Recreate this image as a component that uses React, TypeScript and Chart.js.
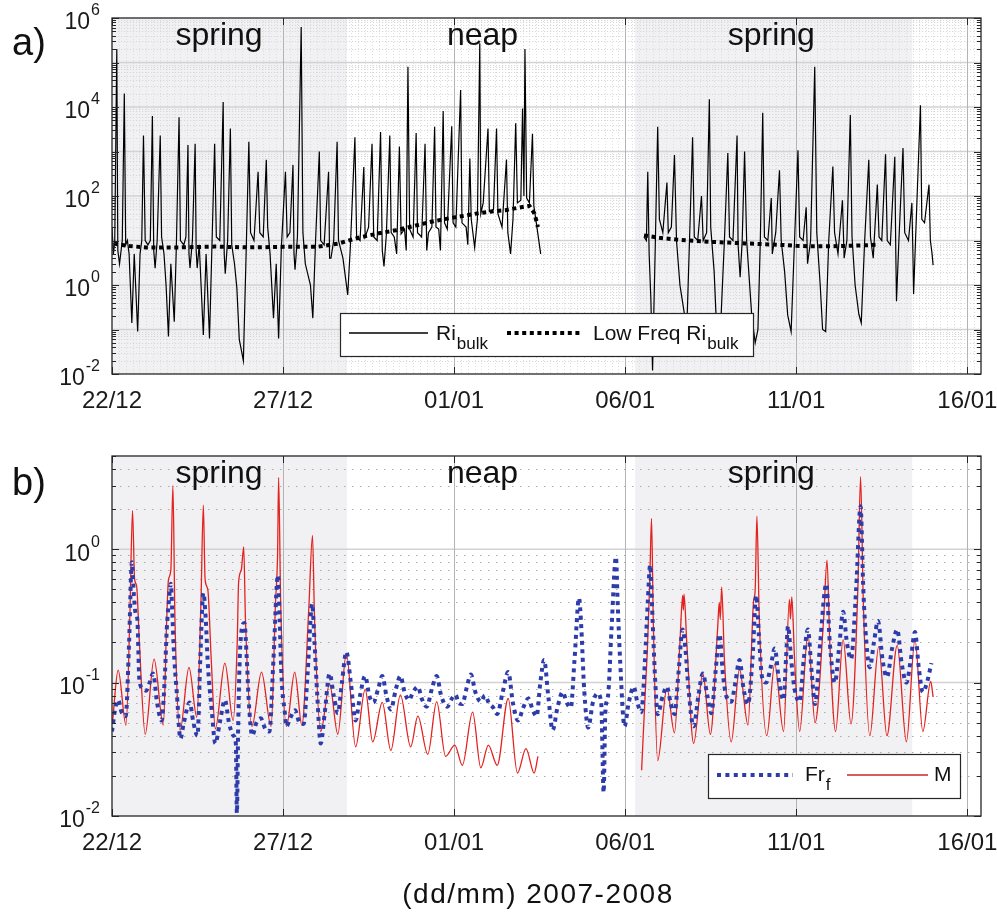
import React, { useEffect, useRef } from "react";
import { Chart, registerables } from "chart.js";

Chart.register(...registerables);

type Pt = [number, number | null];

// ---------- axis / annotation data ----------
const xTickValues = [0, 5, 10, 15, 20, 25];
const xTickLabels = ["22/12", "27/12", "01/01", "06/01", "11/01", "16/01"];
const springPeriods: [number, number][] = [
  [0, 6.87],
  [15.29, 23.39],
];
const seasonLabels = [
  { text: "spring", day: 3.13 },
  { text: "neap", day: 10.83 },
  { text: "spring", day: 19.27 },
];
const panelAExps = [-2, 0, 2, 4, 6];
const panelBExps = [-2, -1, 0];

// ---------- series (day since 22/12, value) ----------
const riBulk: Pt[] = [
  [0.0, 20], [0.04, 5], [0.08, 9], [0.14, 2e5], [0.17, 6], [0.22, 3], [0.3, 10], [0.36, 2e4], [0.4, 8],
  [0.45, 10], [0.5, 5], [0.58, 0.14], [0.65, 5], [0.75, 0.09], [0.82, 5], [0.87, 10], [0.92, 2300],
  [0.97, 10], [1.05, 8], [1.12, 10], [1.18, 6300], [1.22, 6], [1.26, 2.4], [1.32, 10], [1.41, 2300],
  [1.45, 12], [1.52, 5], [1.58, 1], [1.65, 0.07], [1.72, 3], [1.82, 0.15], [1.88, 7], [1.96, 5900],
  [2.0, 10], [2.1, 8], [2.16, 12], [2.22, 1400], [2.25, 5], [2.28, 2.4], [2.35, 10], [2.43, 1500],
  [2.46, 6], [2.49, 2.4], [2.55, 8], [2.67, 0.075], [2.75, 5], [2.85, 0.063], [2.92, 7], [3.0, 1500],
  [3.05, 12], [3.15, 10], [3.25, 13000], [3.28, 5], [3.31, 1.8], [3.38, 10], [3.46, 3300], [3.5, 8],
  [3.58, 3], [3.65, 0.85], [3.72, 0.06], [3.84, 0.02], [3.92, 5], [4.0, 1650], [4.05, 15], [4.15, 10],
  [4.27, 350], [4.32, 15], [4.42, 12], [4.51, 650], [4.55, 20], [4.62, 5], [4.72, 0.18], [4.8, 3],
  [4.87, 0.063], [4.95, 7], [5.07, 350], [5.12, 12], [5.2, 15], [5.29, 500], [5.32, 5], [5.35, 2.2],
  [5.42, 12], [5.53, 6.3e5], [5.58, 15], [5.65, 3], [5.8, 1], [5.87, 0.18], [5.95, 10], [6.06, 1000],
  [6.1, 10], [6.2, 8], [6.33, 350], [6.36, 4], [6.4, 4], [6.48, 10], [6.58, 1650], [6.62, 10], [6.75, 4],
  [6.89, 0.6], [6.97, 8], [7.1, 2100], [7.15, 12], [7.25, 10], [7.36, 450], [7.4, 12], [7.5, 20],
  [7.6, 1500], [7.65, 12], [7.75, 10], [7.85, 2750], [7.9, 6], [7.95, 2.6], [8.02, 14], [8.12, 2300],
  [8.16, 15], [8.25, 12], [8.32, 5], [8.4, 1300], [8.45, 14], [8.55, 18], [8.6, 6], [8.65, 8e4],
  [8.7, 18], [8.8, 12], [8.89, 2600], [8.93, 15], [9.05, 12], [9.15, 1500], [9.2, 6], [9.25, 15],
  [9.35, 20], [9.43, 3600], [9.47, 20], [9.55, 18], [9.6, 6], [9.68, 8100], [9.72, 25], [9.8, 18],
  [9.93, 3700], [9.97, 25], [10.05, 20], [10.19, 2.4e4], [10.23, 25], [10.35, 20], [10.4, 8],
  [10.46, 700], [10.5, 30], [10.6, 7], [10.68, 30], [10.75, 2.7e5], [10.78, 40], [10.85, 70],
  [10.99, 3300], [11.03, 45], [11.15, 50], [11.24, 3300], [11.28, 40], [11.4, 20], [11.53, 660],
  [11.57, 15], [11.65, 5], [11.72, 30], [11.8, 4300], [11.85, 70], [11.95, 80], [12.0, 9300],
  [12.04, 100], [12.07, 2e5], [12.12, 90], [12.2, 70], [12.29, 2500], [12.33, 60], [12.42, 20],
  [12.53, 5], [14.0, null],
  [15.55, 12], [15.62, 10], [15.66, 350], [15.7, 5], [15.75, 0.5], [15.8, 0.012], [15.88, 8],
  [15.95, 3600], [16.0, 30], [16.1, 15], [16.22, 200], [16.26, 15], [16.35, 20], [16.44, 830],
  [16.5, 10], [16.6, 1], [16.68, 0.4], [16.8, 0.1], [16.88, 10], [16.97, 2100], [17.02, 12],
  [17.12, 10], [17.23, 100], [17.28, 10], [17.38, 15], [17.46, 1.5e4], [17.5, 20], [17.6, 2],
  [17.69, 0.05], [17.78, 0.08], [17.9, 10], [18.0, 930], [18.05, 12], [18.15, 10], [18.27, 2300],
  [18.3, 8], [18.36, 1.5], [18.42, 10], [18.49, 1000], [18.55, 10], [18.7, 0.2], [18.8, 0.05],
  [18.88, 0.1], [18.95, 10], [19.02, 7400], [19.07, 12], [19.17, 10], [19.27, 90], [19.3, 5],
  [19.4, 15], [19.51, 380], [19.56, 10], [19.66, 2], [19.75, 0.21], [19.85, 0.09], [19.95, 10],
  [20.05, 1070], [20.1, 12], [20.2, 10], [20.29, 56], [20.33, 3], [20.42, 10], [20.54, 8e4],
  [20.6, 15], [20.7, 1], [20.77, 0.1], [20.86, 0.09], [20.95, 10], [21.07, 460], [21.12, 15],
  [21.22, 5], [21.35, 80], [21.4, 4], [21.48, 10], [21.58, 6600], [21.63, 12], [21.72, 1],
  [21.83, 0.22], [21.9, 0.14], [22.0, 10], [22.12, 650], [22.17, 12], [22.25, 4], [22.37, 180],
  [22.42, 12], [22.5, 10], [22.61, 870], [22.66, 10], [22.75, 8], [22.88, 760], [22.91, 5],
  [22.93, 0.43], [23.0, 10], [23.12, 1200], [23.17, 15], [23.28, 10], [23.38, 70], [23.41, 5],
  [23.43, 0.63], [23.5, 20], [23.63, 1.1e4], [23.67, 30], [23.75, 25], [23.88, 180], [23.92, 10],
  [23.97, 5], [24.0, 2.8],
];

const lowFreqRiBulk: Pt[] = [
  [0.05, 8.5], [0.5, 7.5], [1.0, 7.0], [2.0, 7.0], [3.0, 7.3], [4.0, 7.0], [5.0, 7.2], [6.0, 7.2],
  [6.6, 8.5], [7.2, 11.5], [7.8, 14.5], [8.3, 17], [8.8, 21], [9.3, 26], [9.8, 31], [10.3, 36],
  [10.7, 41], [11.1, 45], [11.5, 48], [11.9, 55], [12.2, 60], [12.35, 40], [12.45, 20], [14.0, null],
  [15.55, 13], [16.0, 11.5], [16.5, 10.5], [17.0, 9.8], [17.5, 9.3], [18.0, 9.0], [18.5, 8.6],
  [19.0, 8.3], [19.5, 8.0], [20.0, 7.6], [20.5, 7.4], [21.0, 7.4], [21.5, 7.6], [22.0, 7.8], [22.35, 8.0],
];

const frF: Pt[] = [
  [0.0, 0.043], [0.1, 0.065], [0.18, 0.074], [0.28, 0.06], [0.4, 0.056], [0.5, 0.2], [0.58, 0.8],
  [0.64, 0.45], [0.69, 0.33], [0.74, 0.3], [0.8, 0.105], [0.9, 0.09], [1.0, 0.087], [1.1, 0.1],
  [1.2, 0.117], [1.32, 0.07], [1.45, 0.052], [1.55, 0.12], [1.6, 0.25], [1.66, 0.4], [1.72, 0.55],
  [1.76, 0.35], [1.8, 0.19], [1.9, 0.08], [2.0, 0.038], [2.1, 0.05], [2.27, 0.071], [2.38, 0.05],
  [2.5, 0.04], [2.58, 0.15], [2.67, 0.47], [2.74, 0.3], [2.8, 0.14], [2.92, 0.06], [3.02, 0.035],
  [3.15, 0.05], [3.3, 0.074], [3.42, 0.05], [3.55, 0.04], [3.62, 0.035], [3.65, 0.0105], [3.69, 0.05],
  [3.75, 0.19], [3.87, 0.28], [3.94, 0.15], [4.0, 0.071], [4.1, 0.04], [4.22, 0.05], [4.35, 0.054],
  [4.48, 0.045], [4.6, 0.043], [4.72, 0.15], [4.85, 0.64], [4.9, 0.3], [4.95, 0.117], [5.05, 0.06],
  [5.1, 0.047], [5.22, 0.055], [5.35, 0.062], [5.48, 0.05], [5.6, 0.049], [5.72, 0.12], [5.85, 0.39],
  [5.92, 0.2], [6.0, 0.08], [6.1, 0.035], [6.22, 0.06], [6.36, 0.117], [6.48, 0.08], [6.6, 0.059],
  [6.72, 0.1], [6.85, 0.17], [6.98, 0.1], [7.12, 0.052], [7.25, 0.08], [7.4, 0.112], [7.52, 0.08],
  [7.64, 0.071], [7.78, 0.09], [7.9, 0.112], [8.02, 0.08], [8.15, 0.063], [8.3, 0.09], [8.43, 0.112],
  [8.55, 0.085], [8.68, 0.074], [8.8, 0.085], [8.94, 0.093], [9.06, 0.075], [9.2, 0.066], [9.35, 0.09],
  [9.49, 0.112], [9.62, 0.08], [9.8, 0.066], [9.92, 0.075], [10.04, 0.081], [10.14, 0.07],
  [10.24, 0.069], [10.36, 0.09], [10.49, 0.115], [10.62, 0.085], [10.78, 0.072], [10.9, 0.08],
  [11.02, 0.07], [11.14, 0.065], [11.26, 0.058], [11.42, 0.085], [11.58, 0.12], [11.72, 0.07],
  [11.87, 0.052], [12.02, 0.065], [12.17, 0.076], [12.3, 0.062], [12.41, 0.056], [12.52, 0.1],
  [12.63, 0.148], [12.75, 0.08], [12.88, 0.044], [13.02, 0.065], [13.17, 0.085], [13.3, 0.07],
  [13.41, 0.065], [13.52, 0.15], [13.65, 0.43], [13.72, 0.25], [13.8, 0.09], [13.92, 0.046],
  [14.05, 0.07], [14.19, 0.083], [14.3, 0.07], [14.37, 0.015], [14.42, 0.06], [14.5, 0.08],
  [14.6, 0.25], [14.73, 0.875], [14.78, 0.4], [14.85, 0.15], [14.98, 0.047], [15.1, 0.07],
  [15.25, 0.093], [15.36, 0.07], [15.47, 0.06], [15.58, 0.15], [15.66, 0.4], [15.73, 0.76],
  [15.8, 0.3], [15.88, 0.1], [15.95, 0.058], [16.1, 0.08], [16.22, 0.093], [16.33, 0.07],
  [16.44, 0.058], [16.56, 0.12], [16.68, 0.25], [16.76, 0.18], [16.85, 0.09], [17.0, 0.047],
  [17.14, 0.08], [17.27, 0.117], [17.4, 0.08], [17.52, 0.059], [17.64, 0.12], [17.76, 0.23],
  [17.85, 0.12], [17.95, 0.08], [18.1, 0.072], [18.22, 0.1], [18.34, 0.148], [18.46, 0.09],
  [18.59, 0.069], [18.72, 0.15], [18.83, 0.45], [18.92, 0.2], [19.0, 0.11], [19.12, 0.1],
  [19.25, 0.13], [19.37, 0.18], [19.5, 0.1], [19.63, 0.074], [19.7, 0.15], [19.76, 0.265],
  [19.85, 0.15], [19.95, 0.09], [20.1, 0.072], [20.22, 0.15], [20.34, 0.25], [20.45, 0.12],
  [20.55, 0.069], [20.7, 0.2], [20.88, 0.55], [20.98, 0.2], [21.13, 0.1], [21.25, 0.18],
  [21.37, 0.34], [21.48, 0.2], [21.6, 0.15], [21.75, 0.5], [21.88, 2.1], [21.96, 0.5], [22.05, 0.2],
  [22.15, 0.13], [22.27, 0.2], [22.39, 0.29], [22.52, 0.15], [22.65, 0.11], [22.8, 0.18],
  [22.95, 0.25], [23.08, 0.14], [23.22, 0.1], [23.35, 0.15], [23.47, 0.24], [23.58, 0.13],
  [23.7, 0.085], [23.82, 0.1], [23.95, 0.14],
];

const mixM: Pt[] = [
  [0.01, 0.049], [0.18, 0.124], [0.41, 0.048], [0.52, 0.3], [0.6, 1.95], [0.66, 0.6], [0.72, 0.53],
  [0.8, 0.2], [0.97, 0.041], [1.23, 0.15], [1.5, 0.048], [1.6, 0.3], [1.65, 0.59], [1.72, 0.7],
  [1.78, 3.0], [1.84, 0.3], [1.99, 0.044], [2.25, 0.13], [2.48, 0.055], [2.6, 0.4], [2.67, 2.14],
  [2.72, 0.6], [2.8, 0.5], [2.9, 0.15], [3.02, 0.045], [3.3, 0.14], [3.54, 0.052], [3.66, 0.2],
  [3.7, 0.56], [3.78, 0.7], [3.85, 1.04], [3.9, 0.3], [4.09, 0.047], [4.37, 0.12], [4.65, 0.047],
  [4.78, 0.4], [4.84, 0.93], [4.87, 3.45], [4.93, 0.4], [5.1, 0.047], [5.34, 0.12], [5.55, 0.048],
  [5.75, 0.35], [5.86, 1.27], [5.92, 0.3], [6.1, 0.043], [6.36, 0.098], [6.6, 0.041], [6.85, 0.166],
  [7.12, 0.033], [7.4, 0.089], [7.62, 0.036], [7.9, 0.071], [8.15, 0.031], [8.43, 0.081],
  [8.73, 0.033], [8.94, 0.056], [9.23, 0.029], [9.49, 0.072], [9.75, 0.028], [10.02, 0.034],
  [10.24, 0.024], [10.54, 0.06], [10.78, 0.023], [11.0, 0.034], [11.26, 0.024], [11.58, 0.076],
  [11.85, 0.021], [12.1, 0.032], [12.34, 0.021], [12.45, 0.028], [14.0, null],
  [15.48, 0.022], [15.6, 0.1], [15.65, 0.18], [15.72, 0.6], [15.77, 1.7], [15.82, 0.3], [15.95, 0.026],
  [16.22, 0.091], [16.44, 0.042], [16.6, 0.2], [16.68, 0.45], [16.7, 0.35], [16.72, 0.46], [16.8, 0.2],
  [17.0, 0.035], [17.27, 0.117], [17.49, 0.041], [17.7, 0.25], [17.75, 0.4], [17.78, 0.3],
  [17.82, 0.52], [17.9, 0.15], [18.1, 0.036], [18.34, 0.126], [18.59, 0.048], [18.75, 0.4],
  [18.8, 0.5], [18.85, 1.77], [18.92, 0.3], [19.14, 0.04], [19.37, 0.138], [19.63, 0.043],
  [19.8, 0.42], [19.83, 0.3], [19.87, 0.44], [19.95, 0.15], [20.1, 0.043], [20.34, 0.23],
  [20.55, 0.05], [20.8, 0.3], [20.9, 0.83], [20.98, 0.2], [21.15, 0.043], [21.37, 0.21],
  [21.6, 0.049], [21.8, 0.5], [21.88, 3.5], [21.96, 0.4], [22.15, 0.04], [22.41, 0.186],
  [22.65, 0.04], [22.95, 0.19], [23.22, 0.036], [23.47, 0.21], [23.7, 0.043], [23.93, 0.102],
  [24.0, 0.078],
];

// ---------- helpers ----------
const FONT = '"Liberation Sans", Arial, Helvetica, sans-serif';
const toXY = (pts: Pt[]) => pts.map(([x, y]) => ({ x, y }));

function hline(ctx: CanvasRenderingContext2D, x0: number, x1: number, y: number) {
  ctx.beginPath();
  ctx.moveTo(x0, y);
  ctx.lineTo(x1, y);
  ctx.stroke();
}
function vline(ctx: CanvasRenderingContext2D, x: number, y0: number, y1: number) {
  ctx.beginPath();
  ctx.moveTo(x, y0);
  ctx.lineTo(x, y1);
  ctx.stroke();
}

function textWithSub(
  ctx: CanvasRenderingContext2D, main: string, sub: string, x: number, y: number,
  mainSize: number, subSize: number, subDy: number
) {
  ctx.textAlign = "left";
  ctx.textBaseline = "alphabetic";
  ctx.font = `${mainSize}px ${FONT}`;
  ctx.fillText(main, x, y);
  const w = ctx.measureText(main).width;
  ctx.font = `${subSize}px ${FONT}`;
  ctx.fillText(sub, x + w + 1, y + subDy);
}

interface DecorCfg {
  exps: number[];
  minorX: boolean;
  minorHDash: number[];
  minorHColor: string;
  panelLabel: string;
  panelLabelY: number;
  legend: (ctx: CanvasRenderingContext2D) => void;
  title?: { text: string; x: number; y: number };
}

function makeDecor(cfg: DecorCfg) {
  return {
    id: "decor",
    beforeDatasetsDraw(chart: any) {
      const { ctx, chartArea: a, scales } = chart;
      const xs = scales.x, ys = scales.y;
      ctx.save();
      ctx.beginPath();
      ctx.rect(a.left, a.top, a.right - a.left, a.bottom - a.top);
      ctx.clip();
      ctx.fillStyle = "#f1f1f3";
      for (const [s, e] of springPeriods) {
        const x0 = xs.getPixelForValue(s), x1 = xs.getPixelForValue(e);
        ctx.fillRect(x0, a.top, x1 - x0, a.bottom - a.top);
      }
      ctx.lineWidth = 1;
      if (cfg.minorX) {
        ctx.strokeStyle = "#dedede";
        ctx.setLineDash([1, 2]);
        for (let k = 1; k * 0.2 < xs.max; k++) {
          if (k % 25 === 0) continue;
          const px = Math.round(xs.getPixelForValue(k * 0.2)) + 0.5;
          vline(ctx, px, a.top, a.bottom);
        }
      }
      ctx.strokeStyle = cfg.minorHColor;
      ctx.setLineDash(cfg.minorHDash);
      const eMin = cfg.exps[0];
      const eMax = Math.ceil(Math.log10(ys.max));
      for (let e = eMin; e < eMax; e++) {
        for (let m = 2; m <= 9; m++) {
          const v = m * Math.pow(10, e);
          if (v >= ys.max) break;
          const py = Math.round(ys.getPixelForValue(v)) + 0.5;
          hline(ctx, a.left, a.right, py);
        }
      }
      ctx.setLineDash([]);
      ctx.strokeStyle = "#d2d2d2";
      ctx.lineWidth = 1.5;
      for (let e = eMin + 1; Math.pow(10, e) < ys.max; e++) {
        const py = ys.getPixelForValue(Math.pow(10, e));
        hline(ctx, a.left, a.right, py);
      }
      ctx.strokeStyle = "#b4b4b4";
      ctx.lineWidth = 1;
      for (const v of xTickValues) {
        if (v === 0) continue;
        const px = Math.round(xs.getPixelForValue(v)) + 0.5;
        vline(ctx, px, a.top, a.bottom);
      }
      ctx.restore();
    },
    afterDatasetsDraw(chart: any) {
      const { ctx, chartArea: a, scales } = chart;
      const xs = scales.x, ys = scales.y;
      ctx.save();
      ctx.setLineDash([]);
      // ticks
      ctx.strokeStyle = "#262626";
      ctx.lineWidth = 1;
      for (const v of xTickValues) {
        const px = Math.round(xs.getPixelForValue(v)) + 0.5;
        vline(ctx, px, a.bottom, a.bottom - 7);
        vline(ctx, px, a.top, a.top + 7);
      }
      const eMin = cfg.exps[0];
      const eMax = Math.ceil(Math.log10(ys.max));
      for (let e = eMin; e <= eMax; e++) {
        for (let m = 1; m <= 9; m++) {
          const v = m * Math.pow(10, e);
          if (v > ys.max * 1.0001) break;
          const py = Math.round(ys.getPixelForValue(v)) + 0.5;
          const len = m === 1 ? 7 : 4;
          hline(ctx, a.left, a.left + len, py);
          hline(ctx, a.right, a.right - len, py);
        }
      }
      // border
      ctx.lineWidth = 1.3;
      ctx.strokeStyle = "#262626";
      ctx.strokeRect(a.left, a.top, a.right - a.left, a.bottom - a.top);
      // y tick labels 10^n
      ctx.fillStyle = "#1a1a1a";
      for (const e of cfg.exps) {
        const py = ys.getPixelForValue(Math.pow(10, e));
        const sup = String(e);
        ctx.font = `23px ${FONT}`;
        const wb = ctx.measureText("10").width;
        ctx.font = `16px ${FONT}`;
        const ws = ctx.measureText(sup).width;
        const x0 = 100 - ws - wb - 1;
        ctx.textAlign = "left";
        ctx.textBaseline = "middle";
        ctx.font = `23px ${FONT}`;
        ctx.fillText("10", x0, py + 5);
        ctx.font = `16px ${FONT}`;
        ctx.fillText(sup, x0 + wb + 1, py - 7);
      }
      // season labels
      ctx.fillStyle = "#111";
      ctx.font = `32px ${FONT}`;
      ctx.textAlign = "center";
      ctx.textBaseline = "alphabetic";
      for (const s of seasonLabels) {
        ctx.fillText(s.text, xs.getPixelForValue(s.day), a.top + 27);
      }
      // legend
      cfg.legend(ctx);
      // panel label
      ctx.fillStyle = "#111";
      ctx.font = `38px ${FONT}`;
      ctx.textAlign = "left";
      ctx.textBaseline = "alphabetic";
      ctx.fillText(cfg.panelLabel, 12, cfg.panelLabelY);
      // axis title
      if (cfg.title) {
        ctx.font = `28px ${FONT}`;
        ctx.textAlign = "center";
        (ctx as any).letterSpacing = "1.5px";
        ctx.fillText(cfg.title.text, cfg.title.x, cfg.title.y);
        (ctx as any).letterSpacing = "0px";
      }
      ctx.restore();
    },
  };
}

function legendA(ctx: CanvasRenderingContext2D) {
  ctx.setLineDash([]);
  ctx.fillStyle = "#fff";
  ctx.fillRect(340, 313, 413, 43);
  ctx.strokeStyle = "#262626";
  ctx.lineWidth = 1.2;
  ctx.strokeRect(340.5, 313.5, 413, 43);
  ctx.strokeStyle = "#000";
  ctx.lineWidth = 1.5;
  hline(ctx, 349, 428, 333);
  ctx.lineWidth = 4;
  ctx.setLineDash([4, 3.6]);
  hline(ctx, 507, 583, 333);
  ctx.setLineDash([]);
  ctx.fillStyle = "#111";
  textWithSub(ctx, "Ri", "bulk", 436, 340, 21, 17, 9);
  textWithSub(ctx, "Low Freq Ri", "bulk", 593, 340, 21, 17, 9);
}

function legendB(ctx: CanvasRenderingContext2D) {
  ctx.setLineDash([]);
  ctx.fillStyle = "#fff";
  ctx.fillRect(708, 324, 252, 44);
  ctx.strokeStyle = "#262626";
  ctx.lineWidth = 1.2;
  ctx.strokeRect(708.5, 324.5, 252, 44);
  ctx.strokeStyle = "#2d3caa";
  ctx.lineWidth = 4;
  ctx.setLineDash([4, 4.4]);
  hline(ctx, 717, 793, 345);
  ctx.setLineDash([]);
  ctx.strokeStyle = "#c62828";
  ctx.lineWidth = 1.5;
  hline(ctx, 847, 928, 345);
  ctx.fillStyle = "#111";
  textWithSub(ctx, "Fr", "f", 805, 351, 21, 17, 9);
  ctx.font = `21px ${FONT}`;
  ctx.fillText("M", 934, 351);
}

function xScale(height: number) {
  return {
    type: "linear" as const,
    min: 0,
    max: 25.4,
    grid: { display: false, drawTicks: false },
    border: { display: false },
    ticks: {
      autoSkip: false,
      maxRotation: 0,
      padding: 13,
      color: "#1a1a1a",
      font: { family: FONT, size: 24 },
      callback: (v: any) => {
        const i = xTickValues.indexOf(Number(v));
        return i >= 0 ? xTickLabels[i] : "";
      },
    },
    afterBuildTicks: (s: any) => {
      s.ticks = xTickValues.map((v) => ({ value: v }));
    },
    afterFit: (s: any) => {
      s.height = height;
      s.paddingLeft = 0;
      s.paddingRight = 0;
    },
  };
}

function yScale(min: number, max: number) {
  return {
    type: "logarithmic" as const,
    min,
    max,
    grid: { display: false, drawTicks: false },
    border: { display: false },
    ticks: { display: false },
    afterFit: (s: any) => {
      s.width = 112;
      s.paddingTop = 0;
      s.paddingBottom = 0;
    },
  };
}

export default function App() {
  const refA = useRef<HTMLCanvasElement>(null);
  const refB = useRef<HTMLCanvasElement>(null);

  useEffect(() => {
    const chartA = new Chart(refA.current as HTMLCanvasElement, {
      type: "line",
      data: {
        datasets: [
          {
            label: "Low Freq Ri_bulk",
            data: toXY(lowFreqRiBulk),
            borderColor: "#000",
            borderWidth: 4,
            borderDash: [4, 3.6],
            pointRadius: 0,
            fill: false,
          },
          {
            label: "Ri_bulk",
            data: toXY(riBulk),
            borderColor: "#000",
            borderWidth: 1.2,
            pointRadius: 0,
            fill: false,
          },
        ],
      },
      options: {
        responsive: false,
        animation: false,
        events: [],
        layout: { padding: { left: 0, right: 16, top: 18, bottom: 0 } },
        plugins: { legend: { display: false }, tooltip: { enabled: false } },
        elements: { line: { tension: 0 } },
        scales: { x: xScale(56), y: yScale(0.01, 1e6) } as any,
      },
      plugins: [
        makeDecor({
          exps: panelAExps,
          minorX: true,
          minorHDash: [1.2, 1.8],
          minorHColor: "#d8d8d8",
          panelLabel: "a)",
          panelLabelY: 55,
          legend: legendA,
        }),
      ],
    });

    const chartB = new Chart(refB.current as HTMLCanvasElement, {
      type: "line",
      data: {
        datasets: [
          {
            label: "Fr_f",
            data: toXY(frF),
            borderColor: "#2d3caa",
            borderWidth: 4,
            borderDash: [4, 4.4],
            pointRadius: 0,
            fill: false,
            cubicInterpolationMode: "monotone",
          },
          {
            label: "M",
            data: toXY(mixM),
            borderColor: "#e3221f",
            borderWidth: 1.3,
            pointRadius: 0,
            fill: false,
            cubicInterpolationMode: "monotone",
          },
        ],
      },
      options: {
        responsive: false,
        animation: false,
        events: [],
        layout: { padding: { left: 0, right: 16, top: 26, bottom: 0 } },
        plugins: { legend: { display: false }, tooltip: { enabled: false } },
        elements: { line: { tension: 0 } },
        scales: { x: xScale(96), y: yScale(0.01, 5) } as any,
      },
      plugins: [
        makeDecor({
          exps: panelBExps,
          minorX: false,
          minorHDash: [1.5, 6.5],
          minorHColor: "#ababab",
          panelLabel: "b)",
          panelLabelY: 65,
          legend: legendB,
          title: { text: "(dd/mm) 2007-2008", x: 538, y: 473 },
        }),
      ],
    });

    return () => {
      chartA.destroy();
      chartB.destroy();
    };
  }, []);

  return (
    <div style={{ position: "absolute", left: 0, top: 0, width: 997, height: 912, background: "#fff" }}>
      <canvas
        ref={refA}
        width={997}
        height={430}
        style={{ position: "absolute", left: 0, top: 0, width: 997, height: 430 }}
      />
      <canvas
        ref={refB}
        width={997}
        height={482}
        style={{ position: "absolute", left: 0, top: 430, width: 997, height: 482 }}
      />
    </div>
  );
}
